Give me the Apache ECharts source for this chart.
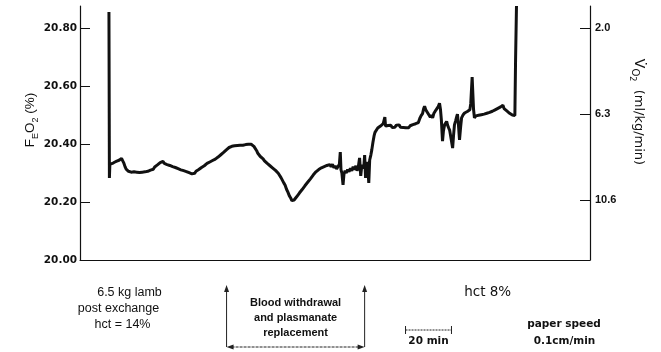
<!DOCTYPE html>
<html><head><meta charset="utf-8">
<script src="https://cdn.jsdelivr.net/npm/echarts@6/dist/echarts.min.js"></script>
<style>html,body{margin:0;padding:0;background:#fff}#c{width:661px;height:352px}</style>
</head><body><div id="c"></div>
<script>
// time (min) vs FEO2 (%)
const trace = [
[12.6,20.855],[12.8,20.283],[13.0,20.330],[13.3,20.336],[13.7,20.326],[14.1,20.333],[14.5,20.327],[15.0,20.337],[15.5,20.333],[16.0,20.341],[16.5,20.337],[17.0,20.344],[17.5,20.340],[18.1,20.350],[18.6,20.342],[19.1,20.334],[19.6,20.322],[20.1,20.313],[20.6,20.309],[21.1,20.306],
[21.7,20.309],[22.3,20.303],[22.9,20.308],[23.5,20.304],[24.1,20.309],[24.7,20.303],[25.3,20.307],[25.9,20.302],[26.5,20.308],[27.1,20.303],[27.7,20.307],[28.3,20.304],
[28.9,20.309],[29.5,20.306],[30.1,20.312],[30.7,20.310],[31.3,20.316],[31.9,20.313],[32.5,20.321],[33.1,20.319],[33.7,20.328],[34.3,20.326],[34.9,20.336],[35.5,20.334],[36.1,20.340],[36.7,20.333],[37.3,20.336],[37.9,20.329],
[38.5,20.333],[39.1,20.326],[39.7,20.330],[40.3,20.322],[40.9,20.326],[41.5,20.319],[42.1,20.322],[42.7,20.315],[43.3,20.318],[43.9,20.311],[44.5,20.315],[45.1,20.308],[45.7,20.312],[46.3,20.305],[46.9,20.308],[47.5,20.301],[48.1,20.305],[48.7,20.297],[49.3,20.302],[49.9,20.299],
[50.5,20.306],[51.1,20.304],[51.7,20.312],[52.3,20.310],[52.9,20.319],[53.5,20.317],[54.1,20.325],[54.7,20.323],[55.3,20.333],[55.9,20.330],[56.5,20.338],[57.1,20.335],[57.7,20.343],[58.3,20.340],[58.9,20.348],
[59.5,20.347],[60.1,20.355],[60.7,20.354],[61.3,20.363],[61.9,20.362],[62.5,20.371],[63.1,20.370],[63.7,20.380],[64.3,20.379],[64.9,20.388],[65.5,20.384],[66.1,20.392],[66.7,20.388],
[67.3,20.394],[67.9,20.390],[68.5,20.395],[69.1,20.390],[69.7,20.396],[70.3,20.391],[70.9,20.396],[71.5,20.392],[72.1,20.398],[72.7,20.393],[73.3,20.399],[73.9,20.394],[74.5,20.399],[75.1,20.393],[75.7,20.392],
[76.3,20.386],[76.9,20.377],[77.4,20.368],[77.9,20.363],[78.5,20.357],[79.1,20.352],[79.7,20.349],[80.3,20.342],[80.9,20.340],[81.5,20.333],[82.1,20.330],[82.7,20.325],[83.3,20.322],[83.9,20.317],[84.5,20.315],[85.1,20.309],[85.7,20.307],
[86.3,20.299],[86.9,20.293],[87.5,20.284],[88.1,20.279],[88.7,20.266],[89.3,20.258],[89.9,20.244],[90.5,20.234],[91.1,20.222],[91.7,20.214],[92.2,20.205],[92.7,20.200],[93.2,20.207],[93.7,20.210],
[94.3,20.218],[94.9,20.222],[95.5,20.231],[96.1,20.234],[96.7,20.243],[97.3,20.247],[97.9,20.256],[98.5,20.259],[99.1,20.268],[99.7,20.272],[100.3,20.280],[100.9,20.285],[101.5,20.293],[102.1,20.297],[102.7,20.304],[103.3,20.305],
[103.9,20.312],[104.5,20.310],[105.1,20.318],[105.7,20.314],[106.3,20.322],[106.9,20.317],[107.5,20.326],[108.1,20.320],[108.7,20.329],[109.3,20.322],[109.9,20.330],[110.5,20.318],[111.1,20.325],[111.7,20.314],[112.3,20.320],
[112.9,20.330],[113.3,20.372],[113.6,20.312],[114.0,20.300],[114.5,20.259],[114.9,20.296],[115.4,20.308],[115.9,20.300],[116.5,20.312],[117.1,20.305],[117.7,20.316],[118.3,20.308],[118.9,20.322],[119.5,20.312],[120.1,20.325],[120.6,20.308],[121.1,20.318],[121.7,20.352],[122.2,20.290],[122.6,20.320],[123.0,20.328],[123.5,20.315],[123.9,20.362],[124.3,20.283],[124.8,20.330],[125.2,20.338],[125.7,20.266],[126.1,20.345],
[126.6,20.362],[127.0,20.379],[127.5,20.405],[128.0,20.428],[128.4,20.440],[128.9,20.446],[129.6,20.455],[130.2,20.452],[130.8,20.462],[131.4,20.460],[132.0,20.470],[132.4,20.466],[132.7,20.493],[133.0,20.462],[133.5,20.458],[134.1,20.464],
[134.7,20.458],[135.3,20.465],[135.9,20.457],[136.5,20.463],[137.1,20.458],[137.7,20.465],[138.3,20.459],[138.9,20.466],[139.5,20.458],[140.1,20.464],[140.7,20.457],[141.3,20.463],[141.9,20.456],[142.5,20.462],[143.1,20.456],[143.7,20.463],[144.3,20.459],[144.9,20.467],[145.5,20.462],[146.1,20.470],[146.7,20.465],
[147.3,20.474],[147.9,20.488],[148.5,20.498],[149.1,20.505],[149.6,20.522],[150.0,20.530],[150.5,20.518],[151.0,20.514],[151.5,20.505],[152.0,20.500],[152.5,20.492],[153.0,20.500],[153.5,20.490],[154.0,20.505],[154.5,20.510],[155.0,20.518],[155.5,20.512],[156.0,20.530],[156.5,20.541],[156.9,20.520],[157.3,20.483],[157.8,20.410],[158.2,20.445],[158.7,20.466],[159.2,20.470],[159.6,20.478],[160.0,20.465],[160.5,20.455],[160.9,20.448],[161.5,20.420],[162.2,20.386],[162.6,20.430],[163.0,20.466],[163.5,20.480],[164.0,20.495],[164.3,20.503],[164.7,20.470],[165.2,20.414],[165.7,20.460],[166.1,20.490],[166.7,20.500],[167.4,20.507],[168.0,20.503],[168.6,20.512],[169.2,20.510],[169.7,20.518],[170.1,20.540],[170.4,20.586],[170.7,20.631],[171.0,20.575],[171.3,20.520],[171.7,20.490],
[172.3,20.497],[172.9,20.492],[173.5,20.499],[174.1,20.494],[174.7,20.501],[175.3,20.496],[175.9,20.503],[176.5,20.499],[177.1,20.506],[177.7,20.502],[178.3,20.509],[178.9,20.505],[179.5,20.513],[180.1,20.509],[180.7,20.518],[181.3,20.514],[181.9,20.523],[182.5,20.518],[183.1,20.528],[183.6,20.522],[184.1,20.534],[184.6,20.522],[185.2,20.525],[185.8,20.514],[186.4,20.520],[187.0,20.506],[187.6,20.512],[188.2,20.500],[188.8,20.506],[189.3,20.498],[189.6,20.690],[190.0,20.876]
];
const leftTicks = [20.0, 20.2, 20.4, 20.6, 20.8];
const rightTicks = [2.0, 6.3, 10.6];
const withdrawalMin = [63.8, 123.9];
const scaleBarMin = [141.7, 161.7];

const chart = echarts.init(document.getElementById('c'), null, {renderer: 'canvas'});
const ink = '#111';
chart.setOption({
  animation: false,
  backgroundColor: '#fff',
  grid: {left: 80, right: 71, top: 6, bottom: 92},
  xAxis: {type: 'value', min: 0, max: 222,
    axisLine: {onZero: false, lineStyle: {color: ink, width: 1}},
    axisTick: {show: false}, axisLabel: {show: false}, splitLine: {show: false}},
  yAxis: [
    {type: 'value', position: 'left', min: 20, max: 20.876,
      axisLine: {show: true, lineStyle: {color: ink, width: 1.2}},
      axisTick: {show: true, inside: true, length: 10, customValues: leftTicks, lineStyle: {color: ink, width: 1}},
      axisLabel: {customValues: leftTicks, formatter: v => v.toFixed(2), margin: 3,
        fontFamily: 'DejaVu Sans', fontWeight: 'bold', fontSize: 10.5, color: ink},
      splitLine: {show: false}},
    {type: 'value', position: 'right', inverse: true, min: 0.9, max: 13.6,
      axisLine: {show: true, lineStyle: {color: ink, width: 1.2}},
      axisTick: {show: true, inside: true, length: 10, customValues: rightTicks, lineStyle: {color: ink, width: 1}},
      axisLabel: {customValues: rightTicks, formatter: v => v.toFixed(1), margin: 5,
        fontFamily: 'Liberation Sans', fontWeight: 'bold', fontSize: 11, color: ink},
      splitLine: {show: false}}
  ],
  series: [{type: 'line', xAxisIndex: 0, yAxisIndex: 0, data: trace, showSymbol: false,
    lineStyle: {color: ink, width: 3}, clip: true}]
});

const px = t => chart.convertToPixel({xAxisIndex: 0, yAxisIndex: 0}, [t, 20])[0];
const wx0 = px(withdrawalMin[0]), wx1 = px(withdrawalMin[1]);
const sx0 = px(scaleBarMin[0]), sx1 = px(scaleBarMin[1]);
const lineSt = {stroke: '#222', lineWidth: 1};
const tri = pts => ({type: 'polygon', shape: {points: pts}, style: {fill: '#222'}});
const txt = (x, y, text, font) => ({type: 'text', x: x, y: y,
  style: {text: text, font: font, fill: ink, textAlign: 'center', textVerticalAlign: 'middle'}});
const ay = 347, atop = 285;
chart.setOption({graphic: [
  {type: 'text', x: 31, y: 120, rotation: Math.PI / 2,
    style: {text: '{n|F}{s|E}{n|O}{s|2}{n| (%)}', textAlign: 'center', textVerticalAlign: 'middle',
      rich: {n: {fontSize: 13.5, fontFamily: 'Liberation Sans', fill: ink, verticalAlign: 'top', lineHeight: 16},
             s: {fontSize: 9, fontFamily: 'Liberation Sans', fill: ink, verticalAlign: 'top', lineHeight: 16, padding: [8, 0, 0, 0]}}}},
  {type: 'text', x: 637, y: 112, rotation: -Math.PI / 2,
    style: {text: '{n|V\u0307}{s|O}{t|2}{m|  (ml/kg/min)}', textAlign: 'center', textVerticalAlign: 'middle',
      rich: {n: {fontSize: 14, fontFamily: 'DejaVu Sans', fill: ink, verticalAlign: 'top', lineHeight: 17},
             s: {fontSize: 10, fontFamily: 'DejaVu Sans', fill: ink, verticalAlign: 'top', lineHeight: 17, padding: [6, 0, 0, 0]},
             t: {fontSize: 8, fontFamily: 'DejaVu Sans', fill: ink, verticalAlign: 'top', lineHeight: 17, padding: [9, 0, 0, 0]},
             m: {fontSize: 13, fontFamily: 'DejaVu Sans', fill: ink, verticalAlign: 'top', lineHeight: 17, padding: [1, 0, 0, 0]}}}},
  txt(129.5, 293, '6.5 kg lamb', '12.5px "Liberation Sans"'),
  txt(118.5, 309, 'post exchange', '12.5px "Liberation Sans"'),
  txt(122.5, 325, 'hct = 14%', '12.5px "Liberation Sans"'),
  txt(487.7, 292, 'hct 8%', '13.5px "DejaVu Sans"'),
  txt((wx0 + wx1) / 2, 303, 'Blood withdrawal', 'bold 11px "Liberation Sans"'),
  txt((wx0 + wx1) / 2, 318, 'and plasmanate', 'bold 11px "Liberation Sans"'),
  txt((wx0 + wx1) / 2, 333, 'replacement', 'bold 11px "Liberation Sans"'),
  txt((sx0 + sx1) / 2, 341, '20 min', 'bold 10.5px "DejaVu Sans"'),
  txt(564, 324, 'paper speed', 'bold 10.5px "DejaVu Sans"'),
  txt(564.5, 341, '0.1cm/min', 'bold 10.5px "DejaVu Sans"'),
  {type: 'line', shape: {x1: wx0, y1: ay, x2: wx0, y2: atop + 5}, style: lineSt},
  {type: 'line', shape: {x1: wx1, y1: ay, x2: wx1, y2: atop + 5}, style: lineSt},
  {type: 'line', shape: {x1: wx0 + 5, y1: ay, x2: wx1 - 5, y2: ay}, style: Object.assign({lineDash: [3, 1]}, lineSt)},
  tri([[wx0, atop], [wx0 - 2.5, atop + 7], [wx0 + 2.5, atop + 7]]),
  tri([[wx1, atop], [wx1 - 2.5, atop + 7], [wx1 + 2.5, atop + 7]]),
  tri([[wx0, ay], [wx0 + 7, ay - 2.5], [wx0 + 7, ay + 2.5]]),
  tri([[wx1, ay], [wx1 - 7, ay - 2.5], [wx1 - 7, ay + 2.5]]),
  {type: 'line', shape: {x1: sx0, y1: 330, x2: sx1, y2: 330}, style: Object.assign({lineDash: [2, 1]}, lineSt)},
  {type: 'line', shape: {x1: sx0, y1: 326, x2: sx0, y2: 334}, style: lineSt},
  {type: 'line', shape: {x1: sx1, y1: 326, x2: sx1, y2: 334}, style: lineSt}
]});
</script>
</body></html>
